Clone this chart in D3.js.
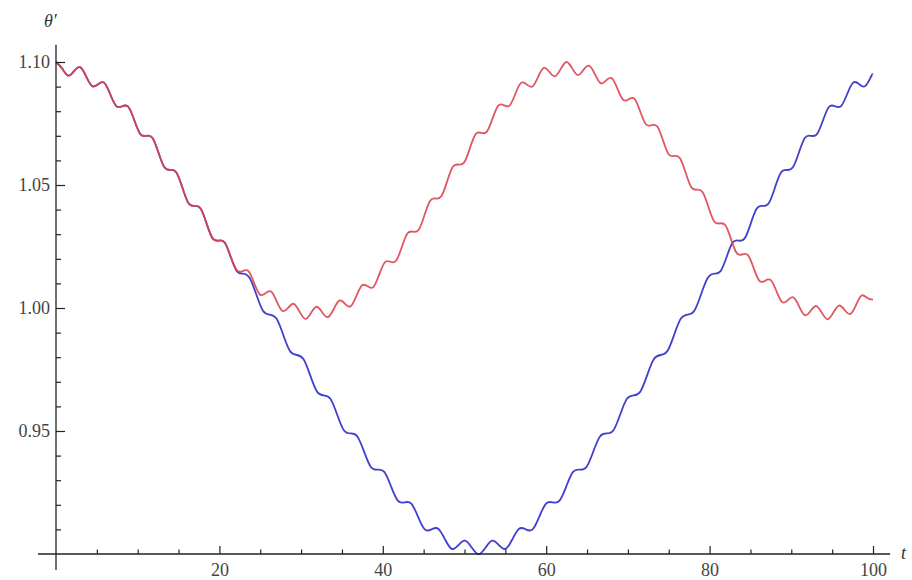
<!DOCTYPE html>
<html>
<head>
  <meta charset="utf-8">
  <title>θ′ against t</title>
  <script src="https://d3js.org/d3.v7.min.js"></script>
  <style>
    body { margin: 0; background: #fff; }
    .curve { fill: none; stroke-width: 1.8px; stroke-linejoin: round; }
    .axis-name { font-family: "Liberation Serif", "DejaVu Serif", serif; font-style: italic; font-size: 18px; fill: #333; }
  </style>
</head>
<body>
  <div id="chart"></div>
  <script>
    // values, both runs start together
    const startT = [0.000, 0.737, 1.475, 2.212, 2.950, 3.687, 4.424, 5.162, 5.899, 6.637,
      7.374, 8.111, 8.849, 9.586, 10.324, 11.061, 11.798, 12.536, 13.273, 14.011,
      14.748, 15.485, 16.223, 16.960, 17.698, 18.435, 19.172, 19.910];
    const startY = [1.1000, 1.0974, 1.0945, 1.0963, 1.0979, 1.0942, 1.0902, 1.0910, 1.0916, 1.0869,
      1.0821, 1.0820, 1.0818, 1.0763, 1.0707, 1.0700, 1.0692, 1.0632, 1.0572, 1.0561,
      1.0550, 1.0488, 1.0426, 1.0415, 1.0404, 1.0343, 1.0283, 1.0274];

    // red run after the split
    const redT = [20.647, 21.385, 22.122, 22.859, 23.554, 24.249, 24.944, 25.639, 26.334, 27.029,
      27.724, 28.419, 29.114, 29.809, 30.504, 31.199, 31.894, 32.589, 33.284, 33.979,
      34.674, 35.369, 36.064, 36.759, 37.454, 38.149, 38.844, 39.539, 40.234, 40.929,
      41.624, 42.319, 43.014, 43.709, 44.404, 45.099, 45.794, 46.489, 47.184, 47.879,
      48.574, 49.269, 49.964, 50.659, 51.354, 52.049, 52.744, 53.439, 54.134, 54.829,
      55.524, 56.219, 56.914, 57.609, 58.304, 58.999, 59.694, 60.389, 61.084, 61.779,
      62.474, 63.169, 63.864, 64.559, 65.254, 65.949, 66.644, 67.339, 68.034, 68.729,
      69.424, 70.119, 70.814, 71.509, 72.204, 72.899, 73.594, 74.289, 74.984, 75.679,
      76.374, 77.069, 77.764, 78.459, 79.154, 79.849, 80.544, 81.239, 81.934, 82.629,
      83.324, 84.019, 84.714, 85.409, 86.104, 86.799, 87.494, 88.189, 88.884, 89.579,
      90.274, 90.969, 91.664, 92.359, 93.054, 93.749, 94.444, 95.139, 95.834, 96.529,
      97.224, 97.919, 98.614, 99.309, 100.000];
    const redY = [1.0266, 1.0209, 1.0154, 1.0150, 1.0150, 1.0102, 1.0055, 1.0060, 1.0067, 1.0026,
      0.9988, 1.0001, 1.0017, 0.9985, 0.9956, 0.9979, 1.0005, 0.9982, 0.9963, 0.9995,
      1.0030, 1.0017, 1.0007, 1.0048, 1.0092, 1.0088, 1.0085, 1.0134, 1.0185, 1.0188,
      1.0192, 1.0247, 1.0303, 1.0310, 1.0318, 1.0377, 1.0436, 1.0445, 1.0455, 1.0515,
      1.0574, 1.0583, 1.0592, 1.0649, 1.0706, 1.0712, 1.0717, 1.0771, 1.0823, 1.0824,
      1.0823, 1.0870, 1.0915, 1.0909, 1.0900, 1.0939, 1.0976, 1.0960, 1.0942, 1.0972,
      1.1000, 1.0975, 1.0947, 1.0968, 1.0985, 1.0951, 1.0914, 1.0925, 1.0934, 1.0891,
      1.0846, 1.0849, 1.0850, 1.0799, 1.0747, 1.0743, 1.0738, 1.0682, 1.0625, 1.0618,
      1.0609, 1.0550, 1.0491, 1.0481, 1.0471, 1.0412, 1.0353, 1.0344, 1.0336, 1.0279,
      1.0223, 1.0218, 1.0214, 1.0161, 1.0110, 1.0111, 1.0113, 1.0068, 1.0024, 1.0032,
      1.0043, 1.0006, 0.9971, 0.9988, 1.0008, 0.9980, 0.9954, 0.9981, 1.0010, 0.9992,
      0.9976, 1.0012, 1.0051, 1.0041, 1.0034];

    // blue run after the split
    const blueT = [20.647, 21.385, 22.122, 22.859, 23.684, 24.509, 25.334, 26.159, 26.984, 27.809,
      28.634, 29.459, 30.284, 31.109, 31.934, 32.759, 33.584, 34.409, 35.234, 36.059,
      36.884, 37.709, 38.534, 39.359, 40.184, 41.009, 41.834, 42.659, 43.484, 44.309,
      45.134, 45.959, 46.784, 47.609, 48.434, 49.259, 50.084, 50.909, 51.734, 52.559,
      53.384, 54.209, 55.034, 55.859, 56.684, 57.509, 58.334, 59.159, 59.984, 60.809,
      61.634, 62.459, 63.284, 64.109, 64.934, 65.759, 66.584, 67.409, 68.234, 69.059,
      69.884, 70.709, 71.534, 72.359, 73.184, 74.009, 74.834, 75.659, 76.484, 77.309,
      78.134, 78.959, 79.784, 80.609, 81.346, 82.083, 82.821, 83.558, 84.296, 85.033,
      85.770, 86.508, 87.245, 87.983, 88.720, 89.457, 90.195, 90.932, 91.670, 92.407,
      93.144, 93.882, 94.619, 95.357, 96.094, 96.831, 97.569, 98.306, 99.044, 99.781,
      100.000];
    const blueY = [1.0266, 1.0207, 1.0150, 1.0140, 1.0123, 1.0056, 0.9989, 0.9973, 0.9957, 0.9891,
      0.9825, 0.9809, 0.9793, 0.9727, 0.9661, 0.9645, 0.9631, 0.9567, 0.9503, 0.9490,
      0.9478, 0.9416, 0.9354, 0.9343, 0.9334, 0.9275, 0.9217, 0.9210, 0.9205, 0.9152,
      0.9100, 0.9100, 0.9103, 0.9060, 0.9021, 0.9036, 0.9054, 0.9025, 0.8999, 0.9025,
      0.9054, 0.9036, 0.9021, 0.9060, 0.9103, 0.9100, 0.9100, 0.9152, 0.9205, 0.9210,
      0.9217, 0.9275, 0.9334, 0.9343, 0.9354, 0.9416, 0.9478, 0.9490, 0.9503, 0.9567,
      0.9631, 0.9645, 0.9661, 0.9727, 0.9793, 0.9809, 0.9825, 0.9891, 0.9957, 0.9973,
      0.9989, 1.0056, 1.0123, 1.0140, 1.0150, 1.0207, 1.0266, 1.0274, 1.0283, 1.0343,
      1.0404, 1.0415, 1.0426, 1.0488, 1.0550, 1.0561, 1.0572, 1.0632, 1.0692, 1.0700,
      1.0707, 1.0763, 1.0818, 1.0820, 1.0821, 1.0869, 1.0916, 1.0910, 1.0902, 1.0942,
      1.0950];

    // ticks
    const xTicks = [20, 40, 60, 80, 100];
    const yTicks = [0.95, 1.00, 1.05, 1.10];

    const width = 912, height = 580;

    const svg = d3.select("#chart").append("svg")
      .attr("width", width)
      .attr("height", height)
      .style("display", "block")
      .style("background", "#fff");

    const x = d3.scaleLinear().domain([0, 100]).range([56, 873]);
    const y = d3.scaleLinear().domain([0.90, 1.10]).range([554, 62]);

    function zip(ts, ys) {
      return ts.map(function(t, i) { return [t, ys[i]]; });
    }
    const redPts = zip(startT, startY).concat(zip(redT, redY));
    const bluePts = zip(startT, startY).concat(zip(blueT, blueY));

    const line = d3.line()
      .x(function(d) { return x(d[0]); })
      .y(function(d) { return y(d[1]); })
      .curve(d3.curveNatural);

    // curves (blue under red)
    svg.append("path").attr("class", "curve")
      .attr("stroke", "#4040cc")
      .attr("d", line(bluePts));
    svg.append("path").attr("class", "curve")
      .attr("stroke", "#dd4450")
      .attr("stroke-opacity", 0.9)
      .attr("d", line(redPts));

    // axes, Mathematica style: ticks point inwards
    const axisColor = "#222";
    const labelFont = '"Liberation Serif", "DejaVu Serif", serif';

    const xMinor = d3.range(5, 100, 5).filter(function(v) { return v % 20 !== 0; });
    const yMinor = d3.range(91, 110).map(function(v) { return v / 100; })
      .filter(function(v) { return Math.round(v * 100) % 5 !== 0; });

    const gx = svg.append("g").attr("transform", "translate(0," + y(0.90) + ")");
    gx.append("g").call(d3.axisBottom(x).tickValues(xMinor).tickSize(-4.5).tickFormat(""));
    gx.append("g").call(d3.axisBottom(x).tickValues(xTicks).tickSize(-8).tickPadding(9)
      .tickFormat(d3.format("d")));
    gx.selectAll(".domain").remove();
    gx.append("line")
      .attr("x1", x(-2.2)).attr("x2", x(102.1))
      .attr("stroke", axisColor).attr("stroke-width", 1.3);

    const gy = svg.append("g").attr("transform", "translate(" + x(0) + ",0)");
    gy.append("g").call(d3.axisLeft(y).tickValues(yMinor).tickSize(-5).tickFormat(""));
    gy.append("g").call(d3.axisLeft(y).tickValues(yTicks).tickSize(-9).tickPadding(6)
      .tickFormat(d3.format(".2f")));
    gy.selectAll(".domain").remove();
    gy.append("line")
      .attr("y1", y(1.107)).attr("y2", y(0.8935))
      .attr("stroke", axisColor).attr("stroke-width", 1.3);

    svg.selectAll(".tick line").attr("stroke", axisColor).attr("stroke-width", 1.2);
    svg.selectAll(".tick text")
      .attr("font-family", labelFont)
      .attr("font-size", 18)
      .attr("fill", "#444");

    // axis names
    svg.append("text").attr("class", "axis-name")
      .attr("x", 44).attr("y", 27)
      .text("θ′");
    svg.append("text").attr("class", "axis-name")
      .attr("x", 901).attr("y", 559)
      .text("t");
  </script>
</body>
</html>
